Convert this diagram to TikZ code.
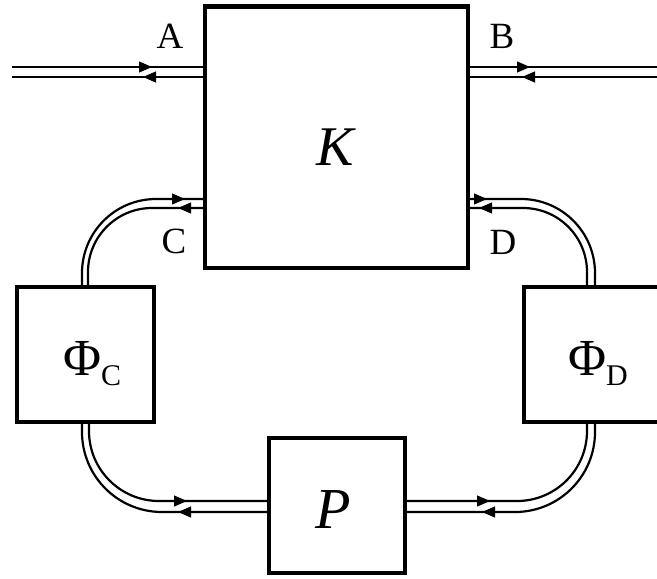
\documentclass[tikz,border=0pt]{standalone}
\usepackage{fontspec}
\setmainfont{Liberation Serif}
\usetikzlibrary{arrows.meta,calc}
\begin{document}
\begin{tikzpicture}[x=1pt,y=-1pt,
  box/.style={draw,line width=4.5pt,inner sep=0pt,outer sep=0pt,fill=white},
  ln/.style={line width=2.2pt},
  tipR/.style={line width=1pt,-{Triangle[length=13pt,width=11pt]}},
  lbl/.style={anchor=base,inner sep=0pt,font=\fontsize{37}{37}\selectfont},
  big/.style={anchor=base,inner sep=0pt}]
\useasboundingbox (0,0) rectangle (657,579);
\clip (0,0) rectangle (657,579);
% boxes
\node[box,minimum width=263pt,minimum height=261.5pt] (K) at (336.5,137.25) {};
\node[box,minimum width=137pt,minimum height=135pt] (PhiC) at (85.5,354.5) {};
\node[box,minimum width=137pt,minimum height=135pt] (PhiD) at (592.5,354.5) {};
\node[box,minimum width=136pt,minimum height=135pt] (P) at (337,505.5) {};
% box texts
\node[big,font=\fontsize{56}{56}\selectfont\itshape] (Kt) at (335,165) {K};
\node[big,font=\fontsize{58}{58}\selectfont\itshape] (Pt) at (333,528) {P};
\node[anchor=base west,inner sep=0pt] (PhiCt) at (63,375) {\fontsize{52}{52}\selectfont Φ\raisebox{-10pt}{\fontsize{30}{30}\selectfont C}};
\node[anchor=base west,inner sep=0pt] (PhiDt) at (568,375) {\fontsize{52}{52}\selectfont Φ\raisebox{-10pt}{\fontsize{30}{30}\selectfont D}};
% port labels
\node[lbl] (la) at (170,48) {A};
\node[lbl] (lb) at (502,48) {B};
\node[lbl] (lc) at (174,253) {C};
\node[lbl] (ld) at (503,254) {D};
% free ends
\coordinate (a1) at (12,67);
\coordinate (a2) at (12,77);
\coordinate (b1) at (662,67);
\coordinate (b2) at (662,77);
% A and B lines
\draw[ln] (a1) -- (a1 -| K.west);
\draw[ln] (a2) -- (a2 -| K.west);
\draw[ln] (K.east |- b1) -- (b1);
\draw[ln] (K.east |- b2) -- (b2);
% C connector
\draw[ln,rounded corners=74pt] ([xshift=-3.5pt]PhiC.north) |- ([yshift=-61.75pt]K.west);
\draw[ln,rounded corners=64pt] ([xshift=2.5pt]PhiC.north) |- ([yshift=-70.75pt]K.west);
% D connector
\draw[ln,rounded corners=74pt] ([xshift=2.5pt]PhiD.north) |- ([yshift=-61.75pt]K.east);
\draw[ln,rounded corners=64pt] ([xshift=-5.5pt]PhiD.north) |- ([yshift=-70.75pt]K.east);
% bottom-left connector
\draw[ln,rounded corners=80pt] ([xshift=-3.5pt]PhiC.south) |- ([yshift=-6.5pt]P.west);
\draw[ln,rounded corners=70pt] ([xshift=3.5pt]PhiC.south) |- ([yshift=4.5pt]P.west);
% bottom-right connector
\draw[ln,rounded corners=80pt] ([xshift=2.5pt]PhiD.south) |- ([yshift=-6.5pt]P.east);
\draw[ln,rounded corners=70pt] ([xshift=-5.5pt]PhiD.south) |- ([yshift=4.5pt]P.east);
% arrowheads
\draw[tipR] (139,67) -- (152,67);
\draw[tipR] (156,77) -- (143,77);
\draw[tipR] (517,67) -- (530,67);
\draw[tipR] (535,77) -- (522,77);
\draw[tipR] (172,199) -- (185,199);
\draw[tipR] (191,208) -- (178,208);
\draw[tipR] (474,199) -- (487,199);
\draw[tipR] (492,208) -- (479,208);
\draw[tipR] (174,501) -- (187,501);
\draw[tipR] (191,512) -- (178,512);
\draw[tipR] (477,501) -- (490,501);
\draw[tipR] (495,512) -- (482,512);
% box borders on top
\draw[line width=4.5pt] (K.south west) rectangle (K.north east);
\draw[line width=4.5pt] (PhiC.south west) rectangle (PhiC.north east);
\draw[line width=4.5pt] (PhiD.south west) rectangle (PhiD.north east);
\draw[line width=4.5pt] (P.south west) rectangle (P.north east);
\end{tikzpicture}
\end{document}
